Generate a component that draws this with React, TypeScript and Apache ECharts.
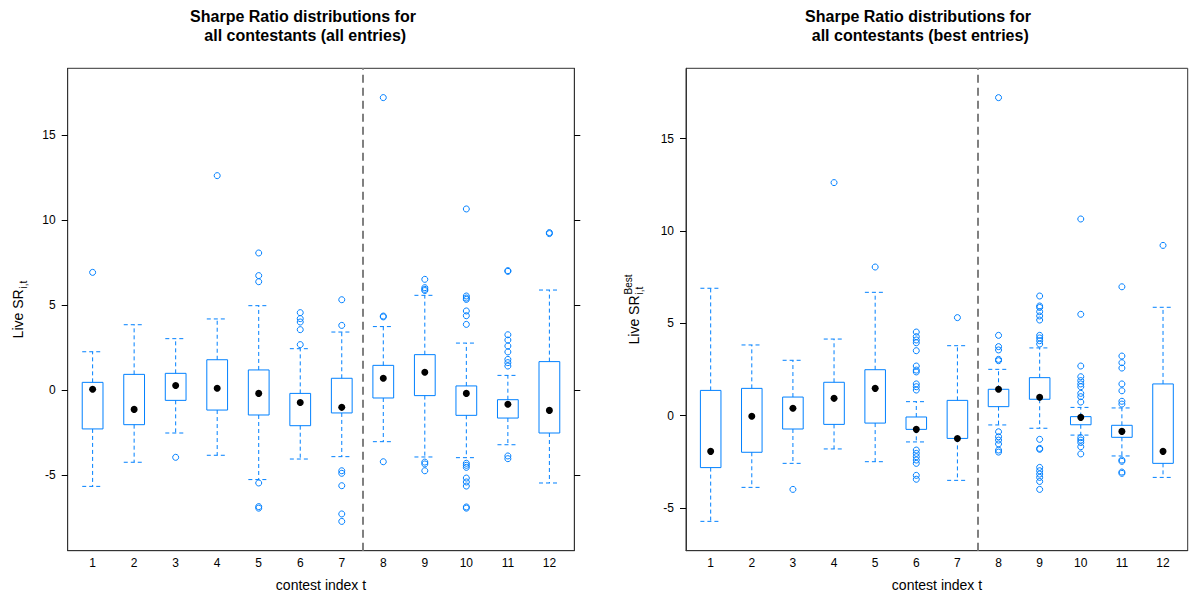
import React, { useEffect, useRef } from "react";
import * as echarts from "echarts";

// ---------- data ----------
const categories = [1, 2, 3, 4, 5, 6, 7, 8, 9, 10, 11, 12];
const yTicks = [-5, 0, 5, 10, 15];

// Panel 1: all entries
const allLower = [-5.67, -4.25, -2.53, -3.84, -5.27, -4.06, -3.92, -3.04, -3.94, -3.98, -3.22, -5.47];
const allQ1 = [-2.29, -2.04, -0.61, -1.18, -1.47, -2.1, -1.35, -0.47, -0.33, -1.49, -1.65, -2.53];
const allMedian = [0.04, -1.14, 0.27, 0.1, -0.2, -0.73, -1.02, 0.69, 1.04, -0.2, -0.84, -1.2];
const allQ3 = [0.45, 0.92, 0.98, 1.78, 1.18, -0.2, 0.69, 1.45, 2.08, 0.24, -0.57, 1.67];
const allUpper = [2.25, 3.84, 3.02, 4.18, 4.96, 2.43, 3.41, 3.73, 5.57, 2.76, 0.86, 5.88];
const allOutliers = [
  [6.92],
  [],
  [-3.96],
  [12.61],
  [8.06, 6.73, 6.37, -5.47, -6.86, -6.95],
  [4.55, 4.2, 4.0, 3.55, 2.67],
  [5.31, 3.8, -4.75, -4.9, -5.63, -7.29, -7.73],
  [17.2, 4.35, 4.3, -4.22],
  [6.51, 6.02, 5.92, 5.85, -4.24, -4.35, -4.75],
  [10.65, 5.53, 5.41, 5.33, 4.65, 4.37, 3.86, -4.31, -4.43, -4.55, -5.18, -5.41, -5.65, -6.88, -6.95],
  [6.98, 7.02, 3.25, 2.94, 2.59, 2.24, 1.8, 1.61, 1.41, -3.88, -4.04],
  [9.2, 9.26],
];

// Panel 2: best entries
const bestLower = [-5.72, -3.88, -2.58, -1.8, -2.49, -1.42, -3.5, -0.5, -0.68, -1.05, -2.18, -3.34];
const bestQ1 = [-2.81, -1.98, -0.72, -0.47, -0.4, -0.74, -1.23, 0.49, 0.89, -0.49, -1.17, -2.58];
const bestMedian = [-1.93, -0.03, 0.4, 0.94, 1.48, -0.74, -1.23, 1.43, 1.0, -0.09, -0.85, -1.93];
const bestQ3 = [1.37, 1.48, 1.01, 1.81, 2.49, -0.07, 0.83, 1.43, 2.06, -0.05, -0.52, 1.72];
const bestUpper = [6.9, 3.83, 3.0, 4.15, 6.68, 0.76, 3.79, 2.51, 3.67, 0.45, 0.42, 5.87];
const bestOutliers = [
  [],
  [],
  [-3.99],
  [12.62],
  [8.05],
  [4.53, 4.28, 4.1, 3.95, 3.52, 2.69, 2.47, 2.37, 1.72, 1.57, 1.39, -1.86, -2.04, -2.22, -2.4, -2.58, -3.23, -3.44],
  [5.31],
  [17.22, 4.35, 3.74, 3.56, 3.05, 2.98, -0.87, -1.14, -1.32, -1.53, -1.86, -1.97],
  [6.48, 5.94, 5.86, 5.63, 5.4, 5.18, 4.35, 4.21, 4.06, 3.88, -1.28, -1.77, -1.82, -2.8, -2.98, -3.16, -3.34, -3.56, -3.99],
  [10.65, 5.49, 2.69, 2.11, 1.9, 1.72, 1.57, 1.21, 1.03, 0.74, -1.19, -1.32, -1.45, -1.68, -2.07],
  [6.98, 3.23, 2.87, 2.58, 1.72, 1.35, 0.78, 0.63, -2.4, -2.47, -3.05, -3.12],
  [9.22],
];

const splitAt = 7.5;

// ---------- styling ----------
const BLUE = "#0080ff";
const FONT = "'Liberation Sans', Arial, Helvetica, sans-serif";

function boxRows(lo: number[], q1: number[], md: number[], q3: number[], hi: number[]) {
  return categories.map((c, i) => [c, lo[i], q1[i], md[i], q3[i], hi[i]]);
}
function outlierRows(out: number[][]) {
  const rows: number[][] = [];
  out.forEach((vals, i) => vals.forEach((v) => rows.push([categories[i], v])));
  return rows;
}
function medianRows(md: number[]) {
  return categories.map((c, i) => [c, md[i]]);
}

function renderBox(_params: any, api: any) {
  const x = api.value(0);
  const lo = api.value(1);
  const q1 = api.value(2);
  const q3 = api.value(4);
  const hi = api.value(5);
  const pLo = api.coord([x, lo]);
  const pQ1 = api.coord([x, q1]);
  const pQ3 = api.coord([x, q3]);
  const pHi = api.coord([x, hi]);
  const bw = api.size([0.5, 0])[0];
  const cw = bw;
  const cx = pQ1[0];
  const dash = { stroke: BLUE, lineWidth: 1, lineDash: [4, 3], fill: null };
  return {
    type: "group",
    children: [
      { type: "line", shape: { x1: cx, y1: pQ3[1], x2: cx, y2: pHi[1] }, style: dash },
      { type: "line", shape: { x1: cx, y1: pQ1[1], x2: cx, y2: pLo[1] }, style: dash },
      { type: "line", shape: { x1: cx - cw / 2, y1: pHi[1], x2: cx + cw / 2, y2: pHi[1] }, style: dash },
      { type: "line", shape: { x1: cx - cw / 2, y1: pLo[1], x2: cx + cw / 2, y2: pLo[1] }, style: dash },
      {
        type: "rect",
        shape: { x: cx - bw / 2, y: pQ3[1], width: bw, height: pQ1[1] - pQ3[1] },
        style: { stroke: BLUE, fill: "none", lineWidth: 1 },
      },
    ],
  };
}

function measure(text: string, font: string) {
  const ctx = document.createElement("canvas").getContext("2d");
  if (!ctx) return text.length * 7;
  ctx.font = font;
  return ctx.measureText(text).width;
}

function yLabel(cx: number, cy: number, withBest: boolean) {
  const mainSize = 14;
  const smallSize = 10;
  const mainW = measure("Live SR", `${mainSize}px 'Liberation Sans'`);
  const subW = measure("i,t", `${smallSize}px 'Liberation Sans'`);
  const supW = withBest ? measure("Best", `${smallSize}px 'Liberation Sans'`) : 0;
  const W = mainW + 1 + Math.max(subW, supW);
  const x0 = -W / 2;
  const base = {
    fill: "#000",
    fontFamily: FONT,
    align: "left",
    textAlign: "left",
    verticalAlign: "middle",
    textVerticalAlign: "middle",
  };
  const children: any[] = [
    { type: "text", x: x0, y: 0, style: { ...base, text: "Live SR", fontSize: mainSize } },
    { type: "text", x: x0 + mainW + 1, y: 5, style: { ...base, text: "i,t", fontSize: smallSize } },
  ];
  if (withBest) {
    children.push({ type: "text", x: x0 + mainW + 1, y: -6, style: { ...base, text: "Best", fontSize: smallSize } });
  }
  return { type: "group", x: cx, y: cy, rotation: Math.PI / 2, children };
}

function textEl(text: string, x: number, y: number, size: number, weight: string, va: string, lh?: number) {
  return {
    type: "text",
    x,
    y,
    style: {
      text,
      fill: "#000",
      fontFamily: FONT,
      fontSize: size,
      fontWeight: weight,
      lineHeight: lh,
      align: "center",
      textAlign: "center",
      verticalAlign: va,
      textVerticalAlign: va,
    },
  };
}

export default function App() {
  const ref = useRef<HTMLDivElement>(null);

  useEffect(() => {
    if (!ref.current) return;
    const chart = echarts.init(ref.current, undefined, { renderer: "svg" });

    const gridTop = 68.3;
    const gridH = 482.4;
    const grids = [
      { left: 67.7, top: gridTop, width: 506.6, height: gridH },
      { left: 686, top: gridTop, width: 501.7, height: gridH },
    ];
    const yRanges = [
      { min: -9.453, max: 18.924 },
      { min: -7.309, max: 18.809 },
    ];

    const xAxis = [0, 1].map((g) => ({
      gridIndex: g,
      type: "value",
      position: "bottom",
      min: 0.4,
      max: 12.6,
      axisLine: { show: true, onZero: false, lineStyle: { color: "#333", width: 1 } },
      axisTick: { show: false },
      splitLine: { show: false },
      axisLabel: {
        customValues: categories,
        color: "#000",
        fontSize: 12,
        fontFamily: FONT,
        margin: 6,
      },
    }));

    const yAxisLeft = [0, 1].map((g) => ({
      gridIndex: g,
      type: "value",
      position: "left",
      min: yRanges[g].min,
      max: yRanges[g].max,
      axisLine: { show: true, onZero: false, lineStyle: { color: "#333", width: 1 } },
      axisTick: { show: true, inside: false, length: 6, customValues: yTicks, lineStyle: { color: "#000" } },
      splitLine: { show: false },
      axisLabel: { customValues: yTicks, color: "#000", fontSize: 12, fontFamily: FONT, margin: 12 },
    }));
    const yAxisRight = {
      gridIndex: 0,
      type: "value",
      position: "right",
      min: yRanges[0].min,
      max: yRanges[0].max,
      axisLine: { show: true, onZero: false, lineStyle: { color: "#333", width: 1 } },
      axisTick: { show: true, inside: false, length: 6, customValues: yTicks, lineStyle: { color: "#000" } },
      splitLine: { show: false },
      axisLabel: { show: false },
    };

    const panels = [
      { lo: allLower, q1: allQ1, md: allMedian, q3: allQ3, hi: allUpper, out: allOutliers },
      { lo: bestLower, q1: bestQ1, md: bestMedian, q3: bestQ3, hi: bestUpper, out: bestOutliers },
    ];
    const yIdx = [0, 1];

    const series: any[] = [];
    panels.forEach((p, g) => {
      series.push({
        type: "custom",
        xAxisIndex: g,
        yAxisIndex: yIdx[g],
        renderItem: renderBox,
        encode: { x: 0, y: [1, 2, 3, 4, 5] },
        data: boxRows(p.lo, p.q1, p.md, p.q3, p.hi),
        silent: true,
        z: 2,
      });
      series.push({
        type: "scatter",
        xAxisIndex: g,
        yAxisIndex: yIdx[g],
        symbol: "circle",
        symbolSize: 6,
        itemStyle: { color: "rgba(255,255,255,0)", borderColor: BLUE, borderWidth: 1, opacity: 1 },
        data: outlierRows(p.out),
        silent: true,
        z: 3,
      });
      series.push({
        type: "scatter",
        xAxisIndex: g,
        yAxisIndex: yIdx[g],
        symbol: "circle",
        symbolSize: 7,
        itemStyle: { color: "#000", opacity: 1 },
        data: medianRows(p.md),
        silent: true,
        z: 4,
        markLine: {
          silent: true,
          symbol: ["none", "none"],
          label: { show: false },
          lineStyle: { color: "#808080", width: 2, type: [8, 5] },
          data: [{ xAxis: splitAt }],
        },
      });
    });

    chart.setOption({
      animation: false,
      backgroundColor: "#fff",
      grid: grids.map((g) => ({ ...g, show: true, borderColor: "#333", borderWidth: 1, backgroundColor: "transparent" })),
      xAxis,
      yAxis: [yAxisLeft[0], yAxisLeft[1], yAxisRight],
      series,
      graphic: [
        textEl("Sharpe Ratio distributions for\n\u00a0all contestants (all entries)", 303, 7, 16, "bold", "top", 19),
        textEl("Sharpe Ratio distributions for\n\u00a0all contestants (best entries)", 918, 7, 16, "bold", "top", 19),
        textEl("contest index t", 321, 585, 14, "normal", "middle"),
        textEl("contest index t", 937, 585, 14, "normal", "middle"),
        yLabel(18, 309.5, false),
        yLabel(634, 309.5, true),
      ],
    });

    return () => chart.dispose();
  }, []);

  return (
    <div
      ref={ref}
      style={{ position: "absolute", left: 0, top: 0, width: 1189, height: 599, background: "#fff" }}
    />
  );
}
